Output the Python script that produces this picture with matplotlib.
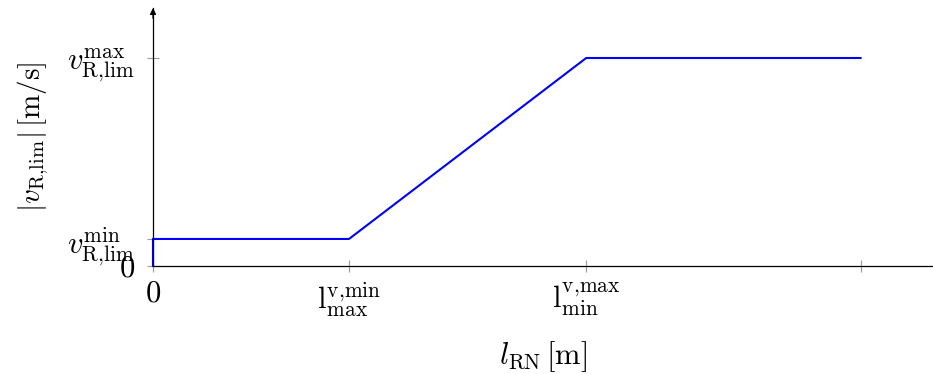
import numpy as np
import matplotlib
matplotlib.use('Agg')
import matplotlib.pyplot as plt

plt.rcParams['mathtext.fontset'] = 'cm'
plt.rcParams['font.family'] = 'serif'
plt.rcParams['font.serif'] = ['cmr10', 'DejaVu Serif']
plt.rcParams['axes.formatter.use_mathtext'] = True

# speed limit as a function of distance to the next node
l_points = [0.0, 0.0, 1.0, 2.21, 3.61]
v_points = [0.0, 0.52, 0.52, 4.0, 4.0]

x_ticks = [0.0, 1.0, 2.21, 3.61]
x_labels = [r'$0$', r'$\mathrm{l}_{\mathrm{max}}^{\mathrm{v{,}min}}$',
            r'$\mathrm{l}_{\mathrm{min}}^{\mathrm{v{,}max}}$', '']
y_ticks = [0.0, 0.52, 4.0]
y_labels = [r'$0$', r'$v_{\mathrm{R{,}lim}}^{\mathrm{min}}$',
            r'$v_{\mathrm{R{,}lim}}^{\mathrm{max}}$']

fig = plt.figure(figsize=(9.33, 3.74), dpi=100)
ax = fig.add_axes([153 / 933, 1 - 266 / 374, 1 - 153 / 933, (266 - 8) / 374])

ax.plot(l_points, v_points, color='#0000ff', lw=1.5, solid_joinstyle='miter', clip_on=False)

ax.set_xlim(0, (933 - 153) / 196)
ax.set_ylim(0, (266 - 8) / 208 * 4.0)

ax.spines['top'].set_visible(False)
ax.spines['right'].set_visible(False)
for s in ('left', 'bottom'):
    ax.spines[s].set_linewidth(0.9)
    ax.spines[s].set_color('black')

# arrow tip on the vertical axis
ax.annotate('', xy=(0, 1.0), xytext=(0, 0.96), xycoords='axes fraction',
            arrowprops=dict(arrowstyle='-|>', color='black', lw=0.9,
                            mutation_scale=9, shrinkA=0, shrinkB=0))

ax.set_xticks(x_ticks)
ax.set_xticklabels(x_labels)
ax.set_yticks(y_ticks)
ax.set_yticklabels(y_labels)
ax.tick_params(axis='both', direction='inout', length=8, width=0.8,
               color='#999999', labelsize=22)
ax.tick_params(axis='x', pad=6)
ax.tick_params(axis='y', pad=9)

ax.set_xlabel(r'$l_{\mathrm{RN}}\,[\mathrm{m}]$', fontsize=22, labelpad=15)
ax.set_ylabel(r'$|v_{\mathrm{R{,}lim}}|\,[\mathrm{m/s}]$', fontsize=21, labelpad=12)

fig.savefig('out.png', dpi=100)
